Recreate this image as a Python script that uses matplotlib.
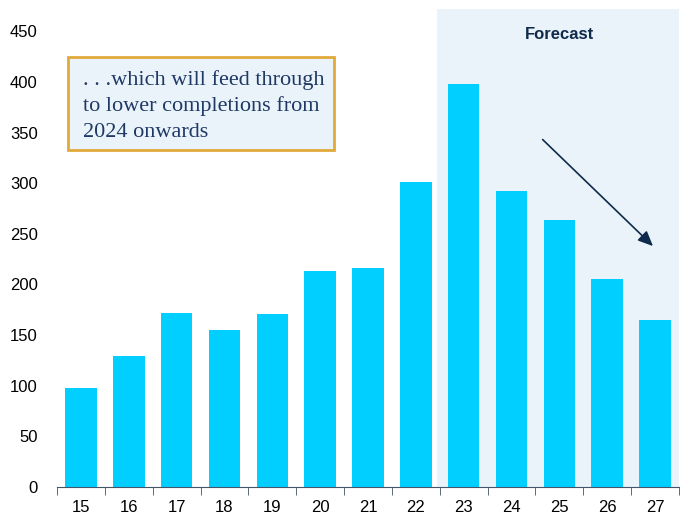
import matplotlib
matplotlib.use("Agg")
import matplotlib.pyplot as plt
from matplotlib.patches import Rectangle
import numpy as np

categories = ["15", "16", "17", "18", "19", "20", "21", "22", "23", "24", "25", "26", "27"]
values = [98, 129, 172, 155, 171, 213, 216, 301, 398, 292, 264, 205, 165]
forecast_start = "23"
yticks = [0, 50, 100, 150, 200, 250, 300, 350, 400, 450]

fig = plt.figure(figsize=(6.83, 5.18), dpi=100)
ax = fig.add_axes([0.0835, 0.0598, 0.9105, 0.9228])

x = np.arange(len(categories))
fs = categories.index(forecast_start)
ax.axvspan(fs - 0.55, len(categories) - 0.5, color="#EAF3FA", zorder=0, lw=0)
ax.bar(x, values, width=0.66, color="#00CFFF", zorder=2)

ax.set_xlim(-0.5, len(categories) - 0.5)
ax.set_ylim(0, 472)
ax.set_yticks(yticks)
ax.set_yticklabels([str(t) for t in yticks], fontsize=12, family="Liberation Sans")
ax.set_xticks(x)
ax.set_xticklabels(categories, fontsize=12, family="Liberation Sans")
ax.set_xticks(np.arange(-0.5, len(categories)), minor=True)
ax.tick_params(axis="x", which="major", length=0, pad=9)
ax.tick_params(axis="x", which="minor", length=6, color="#44546A", direction="out")
ax.tick_params(axis="y", length=0, pad=14)
for s in ["top", "right", "left"]:
    ax.spines[s].set_visible(False)
ax.spines["bottom"].set_color("#44546A")

ax.text(10.0, 447, "Forecast", ha="center", va="center", fontsize=12,
        fontweight="bold", color="#0F2A4A", family="Liberation Sans")

ax.annotate("", xy=(12.0, 236), xytext=(9.61, 345),
            arrowprops=dict(arrowstyle="-|>,head_length=0.9,head_width=0.4",
                            color="#0F2A4A", lw=1.2))

ax.add_patch(Rectangle((-0.27, 332.7), 5.56, 91.8, fc="#EAF3FA", ec="#E2A93B",
                       lw=2, zorder=3))
ax.text(0.043, 412, ". . .which will feed through\nto lower completions from\n2024 onwards",
        ha="left", va="top", fontsize=16, color="#1F3864", family="Liberation Serif",
        linespacing=1.45, zorder=4)

fig.savefig("out.png", dpi=100)
